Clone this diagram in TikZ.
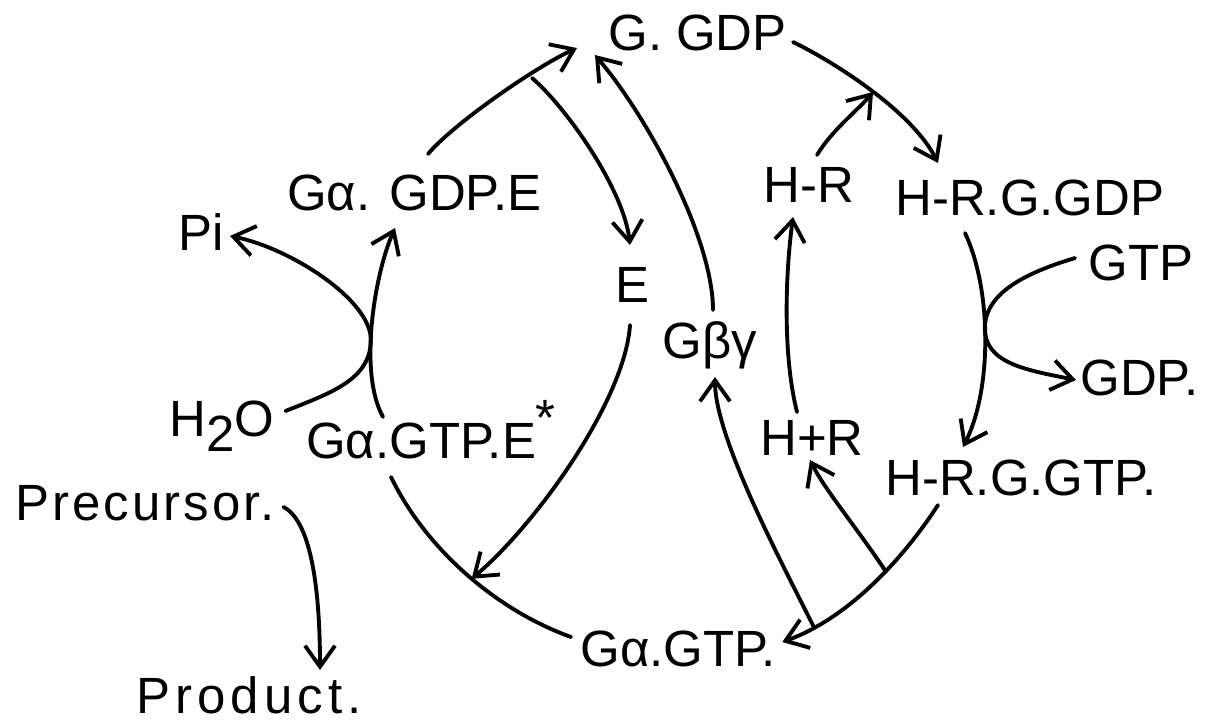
\documentclass[tikz,border=0pt]{standalone}
\usepackage{fontspec}
\setmainfont{Liberation Sans}
\usetikzlibrary{arrows.meta}
\newcommand\lblsize{\fontsize{29}{34}\selectfont}
\begin{document}
\begin{tikzpicture}[x=0.02cm,y=-0.02cm,
  lbl/.style={anchor=base west, inner sep=0pt, font=\lblsize},
  conn/.style={line width=2.2pt, line cap=round},
  arr/.style={conn, -{Straight Barb[length=4.2mm,width=6mm,line width=2.2pt]}}]
\useasboundingbox (0,0) rectangle (1220,724);
% nodes
\node[lbl] (gdp)   at (608,50)  {G. GDP};
\node[lbl] (gdpe)  at (287,210) {Gα. GDP.E};
\node[lbl] (pi)    at (178,250) {Pi};
\node[lbl] (e)     at (615,302) {E};
\node[lbl] (gby)   at (662,358) {Gβγ};
\node[lbl] (hr)    at (763,202) {H-R};
\node[lbl] (hrgdp) at (895,215) {H-R.G.GDP};
\node[lbl] (gtp)   at (1088,280) {GTP};
\node[lbl] (gdpr)  at (1080,395) {GDP.};
\node[lbl] (h2o)   at (169,436) {H\raisebox{-0.3em}{2}O};
\node[lbl] (gte)   at (306,458) {Gα.GTP.E\raisebox{0.45em}{*}};
\node[lbl] (hpr)   at (760,455) {H+R};
\node[lbl] (hrgtp) at (885,495) {H-R.G.GTP.};
\node[lbl] (prec)  at (15,520)  {\addfontfeatures{LetterSpace=6}Precursor.};
\node[lbl] (prod)  at (136,713) {\addfontfeatures{LetterSpace=10}Product.};
\node[lbl] (gtpn)  at (580,666) {Gα.GTP.};
% connectors
\draw[arr] ([shift={(141,-56)}]gdpe.base west) .. controls +(25,-30) and +(-40,18) .. ([shift={(-31,-2)}]gdp.base west);
\draw[arr] ([shift={(-76,28)}]gdp.base west) .. controls +(35,30) and +(-6,-55) .. ([shift={(15,-57)}]e.base west);
\draw[arr] ([shift={(51,-48)}]gby.base west) .. controls +(0,-70) and +(55,65) .. ([shift={(-13,5)}]gdp.base west);
\draw[arr] ([shift={(6,-8)}]gdp.base east) .. controls +(45,22) and +(-25,-50) .. coordinate[pos=0.5] (j1) ([shift={(43,-52)}]hrgdp.base west);
\draw[arr] ([shift={(54,-47)}]hr.base west) .. controls +(15,-25) and +(-15,18) .. (j1);
\draw[arr] ([shift={(70,18)}]hrgdp.base west) .. controls +(27,57) and +(29,-57) .. coordinate[pos=0.45] (j2) ([shift={(78,-48)}]hrgtp.base west);
\draw[arr] ([shift={(-13,-22)}]gtp.base west) .. controls +(-50,15) and +(0,-35) .. (j2) .. controls +(0,35) and +(-50,-10) .. ([shift={(-4,-15)}]gdpr.base west);
\draw[arr] ([shift={(37,-43)}]hpr.base west) .. controls +(-14,-55) and +(-8,60) .. ([shift={(30,15)}]hr.base west);
\draw[arr] ([shift={(53,10)}]hrgtp.base west) .. controls +(-37,57) and +(64,-23) .. coordinate[pos=0.4] (j3) coordinate[pos=0.83] (j4) ([shift={(6,-24)}]gtpn.base east);
\draw[arr] (j3) .. controls +(-30,-45) and +(15,30) .. ([shift={(50,5)}]hpr.base west);
\draw[arr] (j4) .. controls +(-35,-70) and +(0,60) .. ([shift={(53,19)}]gby.base west);
\draw[conn] ([shift={(-9,-29)}]gtpn.base west) .. controls +(-75,-27) and +(35,72) .. coordinate[pos=0.47] (j5) ([shift={(85,19)}]gte.base west);
\draw[arr] ([shift={(15,23)}]e.base west) .. controls +(-5,75) and +(65,-55) .. (j5);
\draw[arr] ([shift={(77,-41)}]gte.base west) .. controls +(-25,-45) and +(-20,45) .. coordinate[pos=0.42] (j6) ([shift={(108,18)}]gdpe.base west);
\draw[arr] ([shift={(11,-25)}]h2o.base east) .. controls +(45,-18) and +(0,40) .. (j6) .. controls +(0,-40) and +(60,12) .. ([shift={(6,-14)}]pi.base east);
\draw[arr] ([shift={(8,-13)}]prec.base east) .. controls +(30,15) and +(0,-70) .. ([shift={(184,-43)}]prod.base west);
\end{tikzpicture}
\end{document}
